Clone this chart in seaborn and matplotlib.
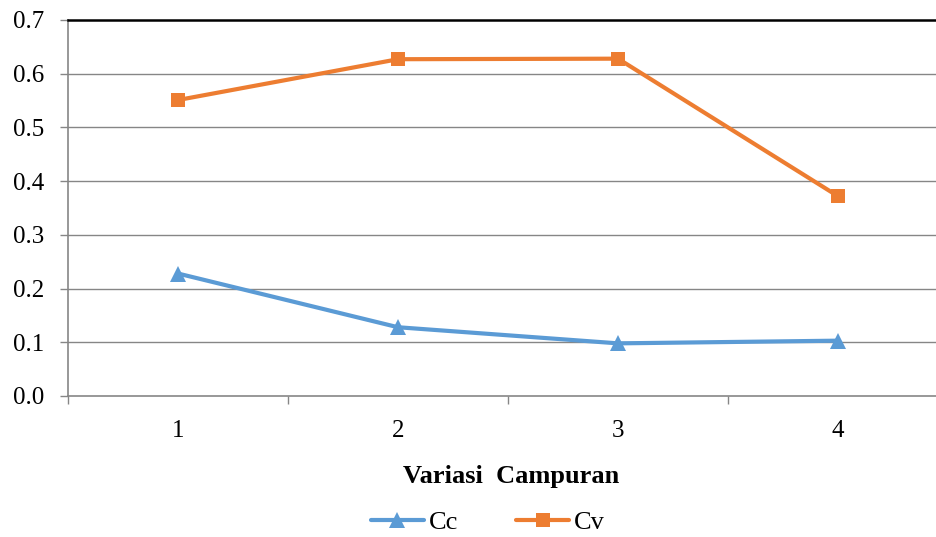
import matplotlib
matplotlib.use("Agg")
import matplotlib.pyplot as plt
import seaborn as sns
import pandas as pd

# Data
variasi = [1, 2, 3, 4]
cc = [0.228, 0.128, 0.098, 0.103]
cv = [0.551, 0.627, 0.628, 0.372]
y_ticks = [0.0, 0.1, 0.2, 0.3, 0.4, 0.5, 0.6, 0.7]

sns.set_theme(style="white")
plt.rcParams["font.family"] = ["Liberation Serif", "DejaVu Serif"]
plt.rcParams["text.color"] = "black"
plt.rcParams["axes.labelcolor"] = "black"

fig = plt.figure(figsize=(9.36, 5.37), dpi=100)
W, H = 936, 537
# plot area: x from 68 px to 948 px (runs past the right edge), y from 20 px to 396 px
ax = fig.add_axes([68 / W, 1 - 396 / H, 880 / W, 376 / H])

df = pd.DataFrame({"Variasi": variasi, "Cc": cc, "Cv": cv})

grid_col = "#868686"
ax.set_axisbelow(True)
for yv in y_ticks[1:-1]:
    ax.axhline(yv, color=grid_col, lw=1.0, zorder=0)

sns.lineplot(data=df, x="Variasi", y="Cc", ax=ax, color="#5B9BD5", lw=3.0,
             marker="^", markersize=12, markeredgewidth=0, label="Cc")
sns.lineplot(data=df, x="Variasi", y="Cv", ax=ax, color="#ED7D31", lw=3.0,
             marker="s", markersize=10, markeredgewidth=0, label="Cv")

ax.set_xlim(0.5, 4.5)
ax.set_ylim(0.0, 0.7)
ax.set_yticks(y_ticks)
ax.set_yticklabels([f"{v:.1f}" for v in y_ticks])
ax.set_xticks(variasi)
ax.set_xticklabels([str(v) for v in variasi])
ax.set_xticks([0.5, 1.5, 2.5, 3.5], minor=True)

ax.tick_params(axis="x", which="major", length=0, pad=17, labelsize=18, labelcolor="black")
ax.tick_params(axis="x", which="minor", length=6, width=1, color=grid_col, direction="out")
ax.tick_params(axis="y", which="major", length=6, width=1, color=grid_col,
               direction="out", pad=11, labelsize=18, labelcolor="black")
ax.tick_params(left=True, bottom=True)
ax.xaxis.set_tick_params(which="minor", bottom=True)

for side in ["left", "bottom"]:
    ax.spines[side].set_color(grid_col)
    ax.spines[side].set_linewidth(1.2)
ax.spines["right"].set_visible(False)
ax.spines["top"].set_color("black")
ax.spines["top"].set_linewidth(1.8)

ax.set_ylabel("")
ax.set_xlabel("Variasi  Campuran", fontsize=19, fontweight="bold")
ax.xaxis.set_label_coords((511 - 68) / 880, -(477 - 396) / 376)
ax.xaxis.label.set_va("center")

leg = ax.legend(loc="center", bbox_to_anchor=((488 - 68) / 880, -(522 - 396) / 376),
                ncol=2, frameon=False, fontsize=19, handlelength=2.0,
                columnspacing=2.2, handletextpad=0.2)
for t in leg.get_texts():
    t.set_color("black")

fig.savefig("out.png", dpi=100)
